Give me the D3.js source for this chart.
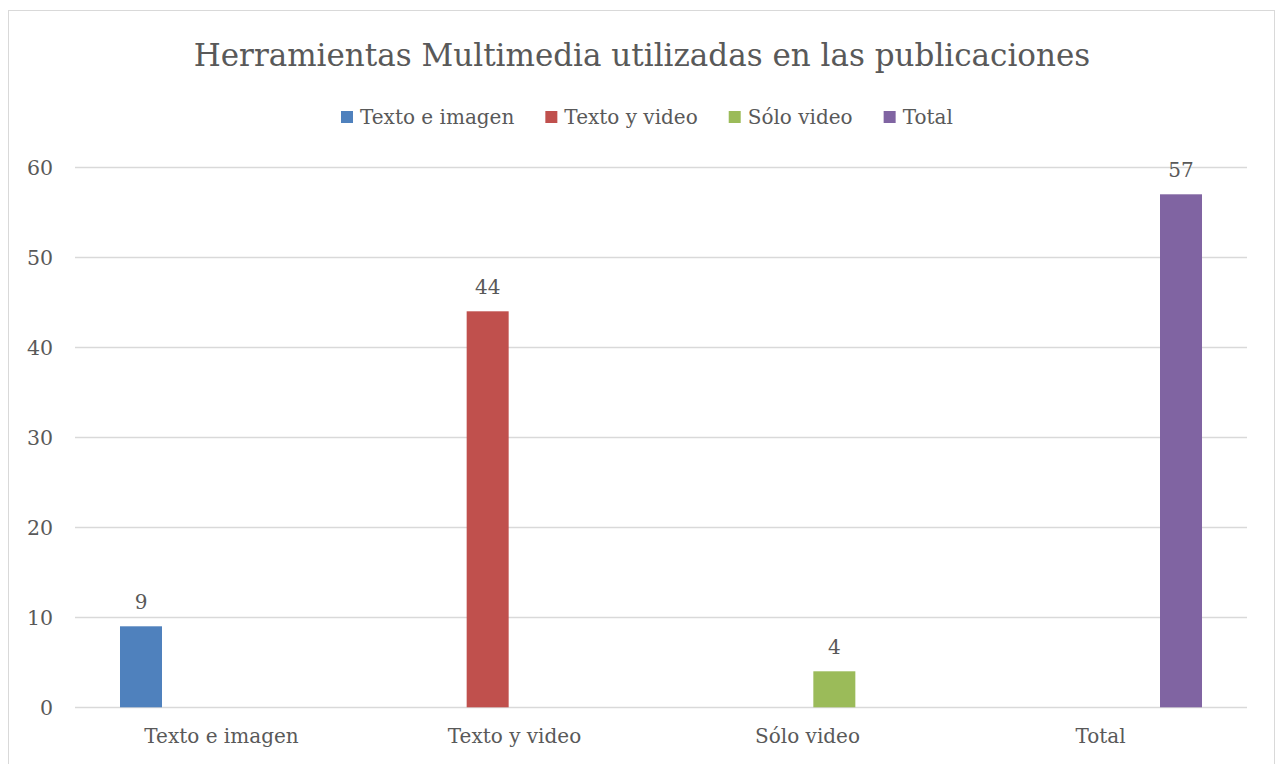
<!DOCTYPE html>
<html>
<head>
<meta charset="utf-8">
<script src="https://cdn.jsdelivr.net/npm/d3@7"></script>
<style>
  html, body { margin: 0; padding: 0; background: #fff; }
  svg { display: block; }
  text { font-family: "DejaVu Serif", serif; fill: #595959; }
</style>
</head>
<body>
<svg id="chart" width="1276" height="764"></svg>
<script>
const title = "Herramientas Multimedia utilizadas en las publicaciones";
const categories = ["Texto e imagen", "Texto y video", "Sólo video", "Total"];
const seriesNames = ["Texto e imagen", "Texto y video", "Sólo video", "Total"];
const seriesColors = ["#4f81bd", "#c0504d", "#9bbb59", "#8064a2"];
// each series has a value only in its own category
const valuesTextoImagen = [9, null, null, null];
const valuesTextoVideo = [null, 44, null, null];
const valuesSoloVideo = [null, null, 4, null];
const valuesTotal = [null, null, null, 57];
const yTicks = [0, 10, 20, 30, 40, 50, 60];

const seriesValues = [valuesTextoImagen, valuesTextoVideo, valuesSoloVideo, valuesTotal];

const svg = d3.select("#chart");

// outer chart border
svg.append("rect").attr("x", 8.5).attr("y", 10.5).attr("width", 1266).attr("height", 770)
  .attr("fill", "none").attr("stroke", "#d9d9d9").attr("stroke-width", 1);

const plot = { left: 75, right: 1247, top: 167.3, bottom: 707.3 };

const x = d3.scaleBand().domain(categories).range([plot.left, plot.right]).paddingInner(0).paddingOuter(0);
const step = 53.67, barW = 42;
const pin = (step - barW) / step;
const xs = d3.scaleBand().domain(d3.range(seriesNames.length))
  .range([-2 * step, 2 * step]).paddingInner(pin).paddingOuter(pin / 2);
const y = d3.scaleLinear().domain([0, 60]).range([plot.bottom, plot.top]);

// gridlines
svg.append("g").selectAll("line").data(yTicks).join("line")
  .attr("x1", plot.left).attr("x2", plot.right)
  .attr("y1", d => Math.round(y(d)) + 0.5).attr("y2", d => Math.round(y(d)) + 0.5)
  .attr("stroke", "#d9d9d9").attr("stroke-width", 1.5);

// y axis labels
const yAxis = d3.axisLeft(y).tickValues(yTicks).tickSize(0).tickPadding(0);
const yg = svg.append("g").attr("transform", `translate(${plot.left - 22},0)`).call(yAxis);
yg.select(".domain").remove();
yg.selectAll("text").attr("font-size", 20.5).attr("font-family", "DejaVu Serif").attr("fill", "#595959").attr("dy", "0.35em");

// x axis labels
const xAxis = d3.axisBottom(x).tickSize(0).tickPadding(0);
const xg = svg.append("g").attr("transform", `translate(0,${plot.bottom + 18})`).call(xAxis);
xg.select(".domain").remove();
xg.selectAll("text").attr("font-size", 20).attr("font-family", "DejaVu Serif").attr("fill", "#595959").attr("dy", "0.9em");

// bars
seriesValues.forEach((vals, si) => {
  const g = svg.append("g");
  const data = categories.map((c, ci) => ({ c, v: vals[ci] })).filter(d => d.v != null);
  g.selectAll("rect").data(data).join("rect")
    .attr("x", d => x(d.c) + x.bandwidth() / 2 + xs(si))
    .attr("width", xs.bandwidth())
    .attr("y", d => y(d.v))
    .attr("height", d => y(0) - y(d.v))
    .attr("fill", seriesColors[si]);
  g.selectAll("text").data(data).join("text")
    .attr("x", d => x(d.c) + x.bandwidth() / 2 + xs(si) + xs.bandwidth() / 2)
    .attr("y", d => y(d.v) - 17)
    .attr("text-anchor", "middle")
    .attr("font-size", 20)
    .text(d => d.v);
});

// title
svg.append("text").attr("x", 642).attr("y", 66).attr("text-anchor", "middle")
  .attr("font-size", 31).text(title);

// legend
const legend = svg.append("g");
const items = legend.selectAll("g").data(seriesNames).join("g");
items.append("rect").attr("width", 12).attr("height", 12).attr("y", 111)
  .attr("fill", (d, i) => seriesColors[i]);
items.append("text").attr("x", 19).attr("y", 124).attr("font-size", 20).text(d => d);
let lx = 341;
items.each(function () {
  const w = this.querySelector("text").getComputedTextLength();
  d3.select(this).attr("transform", `translate(${lx},0)`);
  lx += 19 + w + 31;
});
</script>
</body>
</html>
